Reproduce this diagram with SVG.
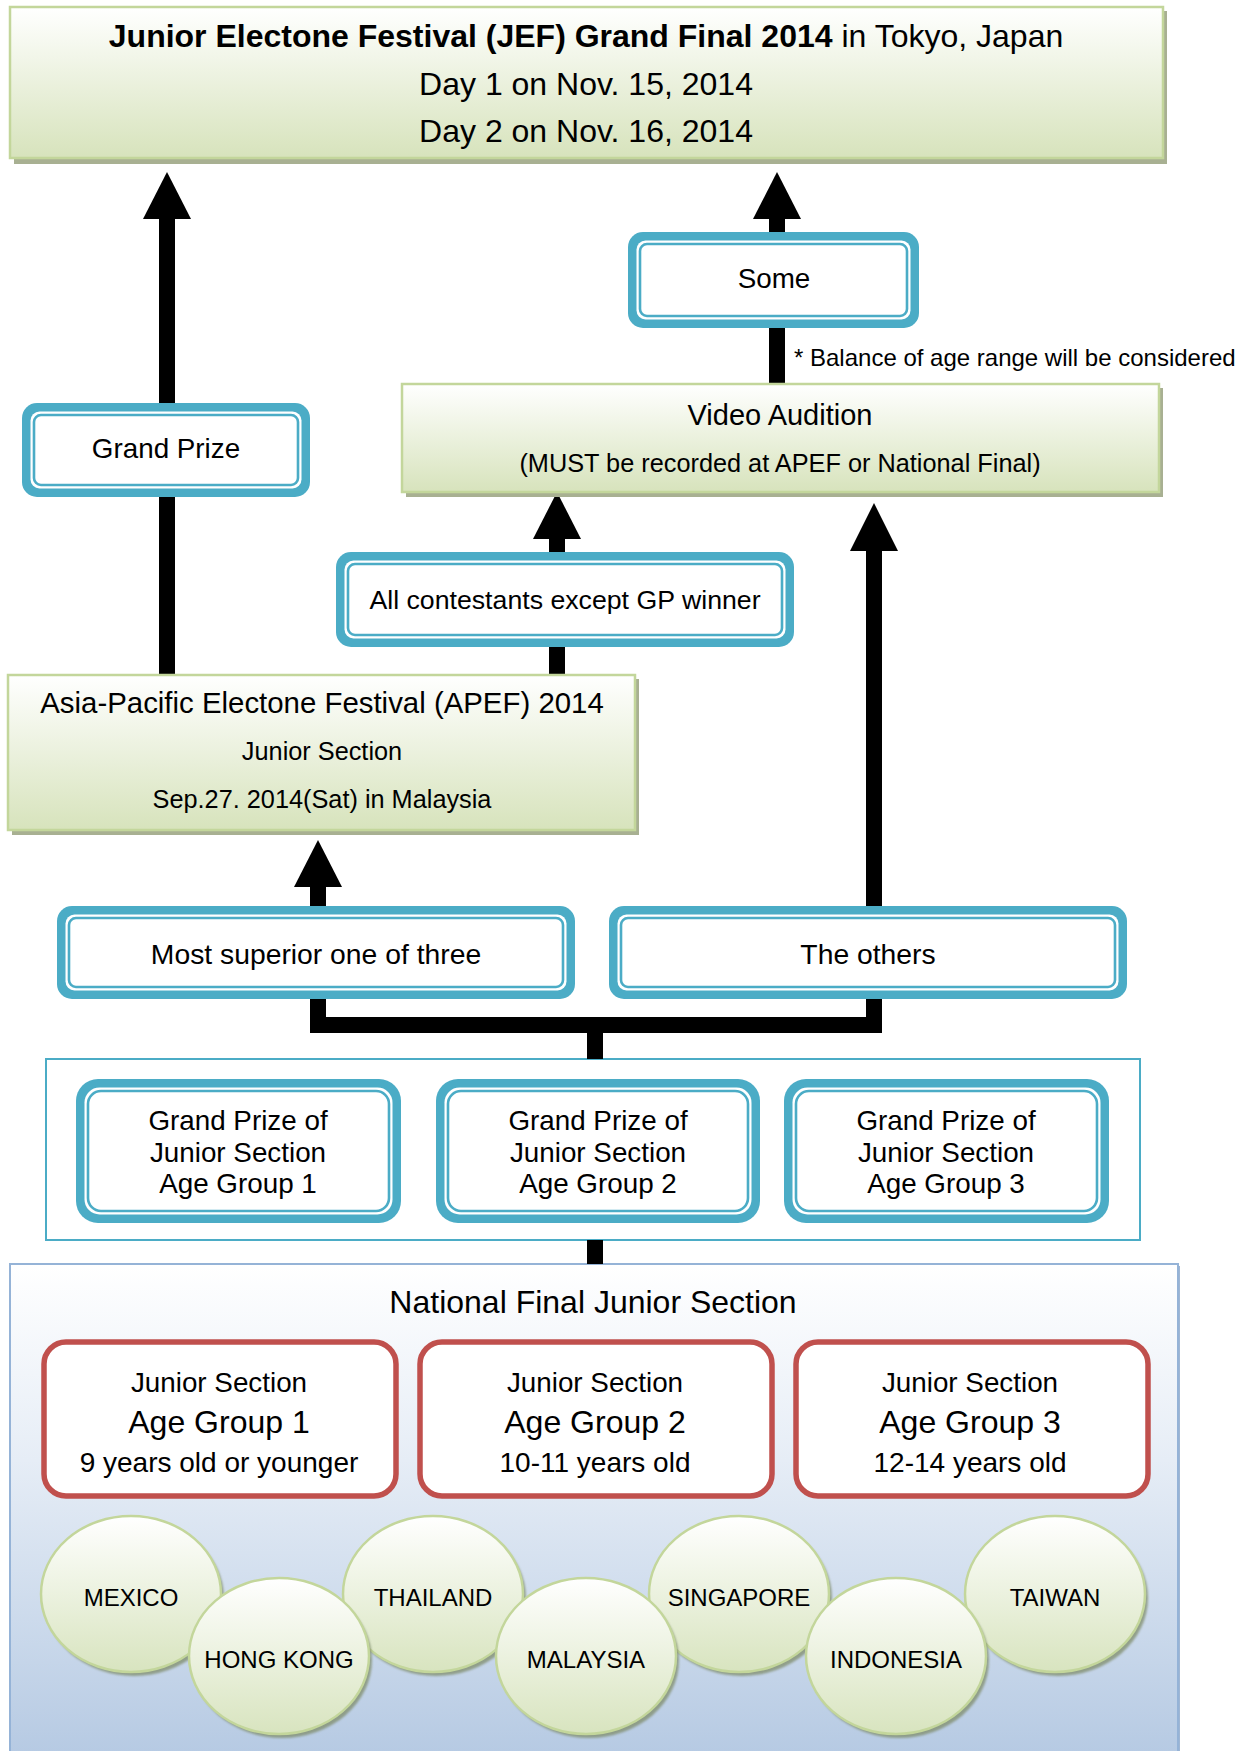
<svg xmlns="http://www.w3.org/2000/svg" width="1253" height="1751" viewBox="0 0 1253 1751">
<defs>
<linearGradient id="gGreen" x1="0" y1="0" x2="0" y2="1">
<stop offset="0" stop-color="#ffffff"/>
<stop offset="1" stop-color="#d7e3bc"/>
</linearGradient>
<linearGradient id="gNat" x1="0" y1="0" x2="0" y2="1">
<stop offset="0" stop-color="#ffffff"/>
<stop offset="0.4" stop-color="#e6edf6"/>
<stop offset="1" stop-color="#b6cae3"/>
</linearGradient>
<linearGradient id="gEll" x1="0" y1="0" x2="0" y2="1">
<stop offset="0" stop-color="#ffffff"/>
<stop offset="1" stop-color="#d8e4bf"/>
</linearGradient>
<filter id="blur" x="-10%" y="-10%" width="120%" height="120%">
<feGaussianBlur stdDeviation="1.2"/>
</filter>
</defs>
<style>
text{font-family:"Liberation Sans",Arial,sans-serif;fill:#000;text-anchor:middle}
.gbox{fill:url(#gGreen);stroke:#c3d69b;stroke-width:2.5}
.gshadow{fill:#a8b092}
.bout{fill:#4bacc6}
.bin{fill:#ffffff}
.bline{fill:none;stroke:#4bacc6;stroke-width:2.6}
.red{fill:#ffffff;stroke:#c0504d;stroke-width:5.5}
.ell{fill:url(#gEll);stroke:#c3d69b;stroke-width:2.5}
.eshadow{fill:#7f8c6a;opacity:0.75;filter:url(#blur)}
.shaft{fill:none;stroke:#000;stroke-width:16}
.head{fill:#000}
.t27{font-size:27.8px}
.t24{font-size:24px}
.t25{font-size:25.3px}
.t32{font-size:32px}
</style>

<!-- background containers -->
<g id="national-final">
<rect x="12" y="1266" width="1168" height="490" fill="#9fb6d3"/>
<rect x="10" y="1264" width="1168" height="490" fill="url(#gNat)" stroke="#95b3d7" stroke-width="2"/>
<text class="t32" x="593" y="1313">National Final Junior Section</text>
</g>

<g id="gp-container">
<rect x="46" y="1059" width="1094" height="181" fill="#ffffff" stroke="#4bacc6" stroke-width="2"/>
</g>

<!-- connectors -->
<g id="connectors">
<path class="shaft" d="M167 219 V404 M167 497 V675"/>
<polygon class="head" points="167,172 143,219 191,219"/>
<path class="shaft" d="M777 219 V232 M777 328 V384"/>
<polygon class="head" points="777,172 753,219 801,219"/>
<path class="shaft" d="M557 538 V552 M557 647 V674"/>
<polygon class="head" points="557,492 533,539 581,539"/>
<path class="shaft" d="M874 550 V906"/>
<polygon class="head" points="874,503 850,551 898,551"/>
<path class="shaft" d="M318 886 V906"/>
<polygon class="head" points="318,840 294,887 342,887"/>
<path class="shaft" stroke-linejoin="miter" d="M318 999 V1025 H874 V999"/>
<path class="shaft" d="M595 1025 V1059"/>
<path class="shaft" d="M595 1240 V1264"/>
</g>

<g id="jef-grand-final">
<rect class="gshadow" x="14" y="11" width="1153" height="153"/>
<rect class="gbox" x="10" y="7" width="1153" height="151"/>
<text class="t32" x="586" y="47"><tspan font-weight="bold">Junior Electone Festival (JEF) Grand Final 2014</tspan> in Tokyo, Japan</text>
<text class="t32" x="586" y="95">Day 1 on Nov. 15, 2014</text>
<text class="t32" x="586" y="142">Day 2 on Nov. 16, 2014</text>
</g>

<g id="some">
<rect class="bout" x="628" y="232" width="291" height="96" rx="15"/>
<rect class="bin" x="636.5" y="240.5" width="274" height="79" rx="9"/>
<rect class="bline" x="640" y="244" width="267" height="72" rx="7"/>
<text class="t27" x="774" y="288">Some</text>
</g>

<g id="balance-note">
<text class="t24" x="794" y="366" style="text-anchor:start">* Balance of age range will be considered</text>
</g>

<g id="video-audition">
<rect class="gshadow" x="406" y="388" width="757" height="109"/>
<rect class="gbox" x="402" y="384" width="757" height="108"/>
<text x="780" y="425" style="font-size:29px">Video Audition</text>
<text class="t25" x="780" y="472">(MUST be recorded at APEF or National Final)</text>
</g>

<g id="grand-prize">
<rect class="bout" x="22" y="403" width="288" height="94" rx="15"/>
<rect class="bin" x="30.5" y="411.5" width="271" height="77" rx="9"/>
<rect class="bline" x="34" y="415" width="264" height="70" rx="7"/>
<text class="t27" x="166" y="458">Grand Prize</text>
</g>

<g id="all-contestants">
<rect class="bout" x="336" y="552" width="458" height="95" rx="15"/>
<rect class="bin" x="344.5" y="560.5" width="441" height="78" rx="9"/>
<rect class="bline" x="348" y="564" width="434" height="71" rx="7"/>
<text x="565" y="609" style="font-size:26.7px">All contestants except GP winner</text>
</g>

<g id="apef">
<rect class="gshadow" x="12" y="679" width="627" height="156"/>
<rect class="gbox" x="8" y="675" width="627" height="155"/>
<text x="322" y="713" style="font-size:29.4px">Asia-Pacific Electone Festival (APEF) 2014</text>
<text class="t25" x="322" y="760">Junior Section</text>
<text class="t25" x="322" y="808">Sep.27. 2014(Sat) in Malaysia</text>
</g>

<g id="most-superior">
<rect class="bout" x="57" y="906" width="518" height="93" rx="15"/>
<rect class="bin" x="65.5" y="914.5" width="501" height="76" rx="9"/>
<rect class="bline" x="69" y="918" width="494" height="69" rx="7"/>
<text x="316" y="964" style="font-size:28.3px">Most superior one of three</text>
</g>

<g id="the-others">
<rect class="bout" x="609" y="906" width="518" height="93" rx="15"/>
<rect class="bin" x="617.5" y="914.5" width="501" height="76" rx="9"/>
<rect class="bline" x="621" y="918" width="494" height="69" rx="7"/>
<text x="868" y="964" style="font-size:28.3px">The others</text>
</g>

<g id="gp-age-group-1">
<rect class="bout" x="76" y="1079" width="325" height="144" rx="22"/>
<rect class="bin" x="84.5" y="1087.5" width="308" height="127" rx="15"/>
<rect class="bline" x="88" y="1091" width="301" height="120" rx="13"/>
<text class="t27" x="238" y="1129.5">Grand Prize of</text>
<text class="t27" x="238" y="1161.5">Junior Section</text>
<text class="t27" x="238" y="1193">Age Group 1</text>
</g>

<g id="gp-age-group-2">
<rect class="bout" x="436" y="1079" width="324" height="144" rx="22"/>
<rect class="bin" x="444.5" y="1087.5" width="307" height="127" rx="15"/>
<rect class="bline" x="448" y="1091" width="300" height="120" rx="13"/>
<text class="t27" x="598" y="1129.5">Grand Prize of</text>
<text class="t27" x="598" y="1161.5">Junior Section</text>
<text class="t27" x="598" y="1193">Age Group 2</text>
</g>

<g id="gp-age-group-3">
<rect class="bout" x="784" y="1079" width="325" height="144" rx="22"/>
<rect class="bin" x="792.5" y="1087.5" width="308" height="127" rx="15"/>
<rect class="bline" x="796" y="1091" width="301" height="120" rx="13"/>
<text class="t27" x="946" y="1129.5">Grand Prize of</text>
<text class="t27" x="946" y="1161.5">Junior Section</text>
<text class="t27" x="946" y="1193">Age Group 3</text>
</g>

<g id="age-group-1">
<rect class="red" x="44" y="1342" width="352" height="154" rx="22"/>
<text class="t27" x="219" y="1392">Junior Section</text>
<text class="t32" x="219" y="1433">Age Group 1</text>
<text x="219" y="1472" style="font-size:28px">9 years old or younger</text>
</g>

<g id="age-group-2">
<rect class="red" x="420" y="1342" width="352" height="154" rx="22"/>
<text class="t27" x="595" y="1392">Junior Section</text>
<text class="t32" x="595" y="1433">Age Group 2</text>
<text x="595" y="1472" style="font-size:28px">10-11 years old</text>
</g>

<g id="age-group-3">
<rect class="red" x="796" y="1342" width="352" height="154" rx="22"/>
<text class="t27" x="970" y="1392">Junior Section</text>
<text class="t32" x="970" y="1433">Age Group 3</text>
<text x="970" y="1472" style="font-size:28px">12-14 years old</text>
</g>

<g id="mexico">
<ellipse class="eshadow" cx="134" cy="1598" rx="90" ry="78"/>
<ellipse class="ell" cx="131" cy="1594" rx="90" ry="78"/>
<text class="t24" x="131" y="1606">MEXICO</text>
</g>
<g id="thailand">
<ellipse class="eshadow" cx="436" cy="1598" rx="90" ry="78"/>
<ellipse class="ell" cx="433" cy="1594" rx="90" ry="78"/>
<text class="t24" x="433" y="1606">THAILAND</text>
</g>
<g id="singapore">
<ellipse class="eshadow" cx="742" cy="1598" rx="90" ry="78"/>
<ellipse class="ell" cx="739" cy="1594" rx="90" ry="78"/>
<text class="t24" x="739" y="1606">SINGAPORE</text>
</g>
<g id="taiwan">
<ellipse class="eshadow" cx="1058" cy="1598" rx="90" ry="78"/>
<ellipse class="ell" cx="1055" cy="1594" rx="90" ry="78"/>
<text class="t24" x="1055" y="1606">TAIWAN</text>
</g>
<g id="hong-kong">
<ellipse class="eshadow" cx="282" cy="1660" rx="90" ry="78"/>
<ellipse class="ell" cx="279" cy="1656" rx="90" ry="78"/>
<text class="t24" x="279" y="1668">HONG KONG</text>
</g>
<g id="malaysia">
<ellipse class="eshadow" cx="589" cy="1660" rx="90" ry="78"/>
<ellipse class="ell" cx="586" cy="1656" rx="90" ry="78"/>
<text class="t24" x="586" y="1668">MALAYSIA</text>
</g>
<g id="indonesia">
<ellipse class="eshadow" cx="899" cy="1660" rx="90" ry="78"/>
<ellipse class="ell" cx="896" cy="1656" rx="90" ry="78"/>
<text class="t24" x="896" y="1668">INDONESIA</text>
</g>
</svg>
